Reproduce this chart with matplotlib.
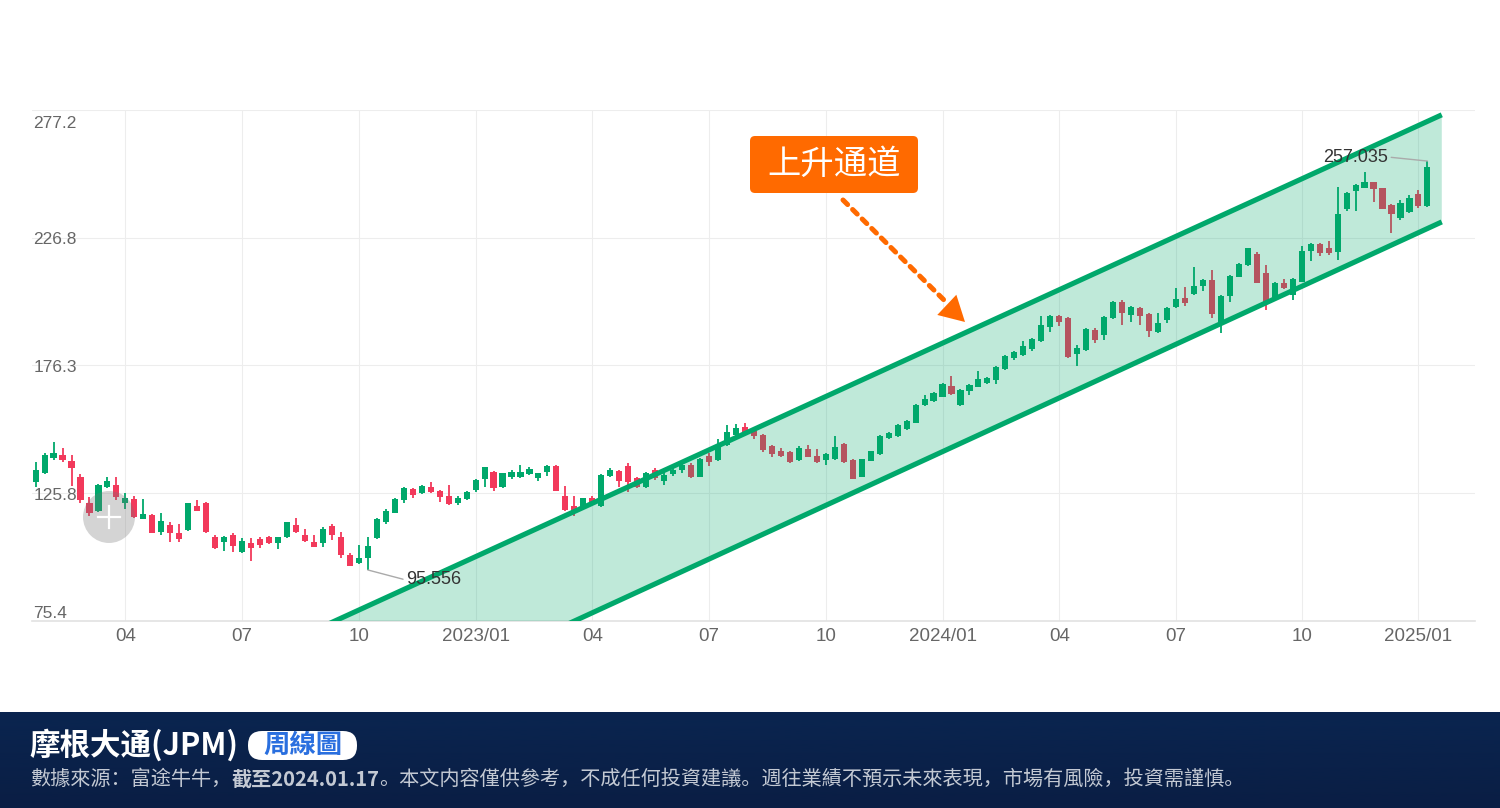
import numpy as np
import pandas as pd
import matplotlib
matplotlib.use('Agg')
import matplotlib.pyplot as plt
from matplotlib.patches import FancyBboxPatch, Circle, Polygon
from matplotlib.lines import Line2D
from matplotlib.transforms import IdentityTransform, blended_transform_factory

CJK = ['Noto Sans CJK SC', 'DejaVu Sans']
NUM = ['Liberation Sans', 'DejaVu Sans']
plt.rcParams['font.family'] = CJK

# ---------------- data ----------------
weeks = pd.date_range('2022-01-24', periods=156, freq='W-MON')

opens = [130.4, 133.7, 139.6, 140.9, 138.7, 132.1, 121.9, 119.0, 128.4, 129.1,
         121.9, 123.4, 115.7, 117.3, 110.7, 113.3, 110.3, 111.3, 120.8, 121.9,
         108.7, 106.7, 109.4, 102.8, 106.3, 107.6, 108.4, 106.3, 108.4, 113.3,
         109.4, 106.7, 106.3, 112.9, 108.7, 101.4, 98.2, 100.4, 108.0, 114.6,
         118.2, 123.2, 127.4, 125.8, 128.4, 126.9, 124.8, 121.9, 123.6, 127.1,
         131.3, 134.4, 128.2, 132.1, 132.1, 133.4, 131.7, 134.4, 136.6, 124.8,
         120.8, 119.9, 123.8, 120.8, 132.7, 134.8, 136.6, 131.7, 128.4, 135.0,
         130.8, 133.3, 135.0, 137.0, 132.4, 140.4, 139.0, 144.9, 148.8, 152.1,
         150.6, 148.8, 144.6, 142.5, 142.3, 139.0, 143.2, 140.6, 139.0, 139.2,
         145.3, 139.0, 132.4, 138.7, 141.3, 147.5, 148.6, 151.2, 153.7, 160.7,
         162.4, 164.0, 168.2, 160.7, 166.2, 167.9, 169.3, 170.6, 174.8, 179.1,
         180.4, 182.7, 186.1, 191.6, 196.0, 194.9, 180.8, 182.4, 190.3, 188.3,
         194.9, 201.2, 196.2, 199.1, 196.6, 189.6, 194.3, 199.3, 202.8, 204.5,
         207.7, 210.0, 192.3, 203.7, 211.4, 216.0, 220.2, 212.9, 202.8, 209.0,
         204.1, 209.4, 221.5, 224.3, 222.6, 221.2, 238.1, 245.3, 246.5, 248.6,
         246.3, 239.7, 234.4, 237.0, 244.0, 239.3]
highs = [138.3, 141.6, 146.2, 143.6, 140.9, 133.4, 124.2, 129.4, 132.4, 132.1,
         125.8, 124.8, 123.6, 117.5, 117.9, 114.6, 113.7, 122.1, 123.2, 122.5,
         109.4, 109.0, 110.0, 108.0, 108.0, 108.7, 109.0, 108.7, 114.6, 115.9,
         111.9, 109.4, 112.4, 113.6, 110.7, 102.4, 105.4, 108.4, 115.9, 119.5,
         123.8, 128.4, 127.8, 129.1, 130.4, 127.1, 129.1, 124.8, 126.9, 131.3,
         136.3, 134.6, 134.0, 135.0, 137.0, 136.3, 134.0, 137.0, 136.9, 128.7,
         124.8, 124.1, 124.8, 133.3, 135.7, 135.0, 137.7, 132.4, 134.4, 135.7,
         135.7, 136.3, 137.7, 137.7, 139.8, 141.6, 147.1, 152.8, 153.2, 153.7,
         150.8, 149.2, 144.9, 143.6, 142.7, 144.5, 144.9, 143.3, 141.6, 148.6,
         145.6, 139.2, 139.5, 142.7, 148.8, 150.2, 153.2, 154.8, 161.0, 164.6,
         165.7, 169.3, 172.1, 166.9, 169.0, 174.2, 171.6, 176.1, 180.4, 182.2,
         186.1, 187.0, 195.8, 196.2, 196.4, 195.3, 184.4, 191.2, 191.0, 195.8,
         201.8, 202.2, 199.9, 199.5, 197.2, 196.9, 199.3, 206.8, 207.4, 215.1,
         210.5, 214.0, 204.1, 212.0, 216.6, 222.8, 221.2, 216.0, 209.4, 210.3,
         210.7, 223.5, 224.5, 224.5, 225.6, 246.6, 244.9, 248.0, 252.8, 248.9,
         246.5, 240.1, 241.6, 243.6, 245.6, 257.035]
lows = [128.4, 133.4, 139.0, 138.3, 128.7, 121.9, 117.0, 118.6, 127.8, 123.2,
        119.5, 115.9, 115.5, 110.0, 109.4, 106.7, 106.7, 111.1, 118.8, 110.3,
        103.7, 103.2, 102.8, 102.1, 99.1, 104.1, 105.8, 103.7, 108.0, 110.0,
        106.7, 104.5, 104.7, 107.4, 100.1, 97.1, 97.9, 95.556, 107.8, 113.9,
        117.9, 122.1, 123.8, 125.6, 125.8, 122.5, 121.2, 121.2, 123.2, 126.5,
        128.4, 126.9, 127.8, 131.3, 131.7, 133.0, 130.7, 132.7, 126.6, 118.9,
        116.9, 119.5, 121.6, 120.6, 132.1, 128.4, 126.5, 127.8, 128.0, 131.1,
        129.1, 132.7, 133.7, 131.7, 132.1, 136.6, 138.7, 144.6, 148.2, 149.5,
        147.1, 142.3, 140.3, 140.3, 137.7, 138.6, 140.0, 137.9, 137.0, 139.0,
        137.9, 131.3, 132.1, 138.4, 141.1, 147.1, 148.2, 150.8, 153.5, 160.4,
        162.0, 163.7, 164.6, 160.4, 164.6, 167.7, 169.0, 169.0, 174.5, 178.5,
        180.1, 182.2, 185.7, 189.7, 191.9, 179.3, 176.1, 182.2, 185.0, 186.3,
        194.7, 192.3, 193.6, 192.3, 187.7, 189.3, 192.9, 198.9, 199.9, 204.1,
        205.8, 194.9, 189.0, 201.5, 211.1, 215.6, 208.7, 198.2, 202.4, 206.4,
        202.2, 209.1, 217.7, 219.7, 219.9, 218.0, 237.4, 237.4, 246.3, 241.0,
        238.0, 228.5, 233.8, 236.4, 238.6, 239.0]
closes = [135.0, 140.9, 141.6, 139.0, 135.7, 123.2, 117.9, 129.1, 130.8, 124.2,
          124.1, 116.3, 117.5, 110.3, 115.0, 110.0, 107.8, 121.9, 119.0, 110.4,
          104.1, 108.7, 105.0, 107.1, 104.4, 105.4, 106.3, 108.4, 114.4, 110.7,
          107.1, 104.7, 111.6, 109.4, 101.4, 97.2, 100.1, 105.0, 115.5, 118.9,
          123.4, 127.8, 125.2, 128.8, 126.5, 124.2, 121.5, 123.8, 126.5, 131.1,
          136.1, 127.8, 133.7, 134.4, 134.4, 135.3, 133.7, 136.6, 126.9, 119.2,
          118.9, 123.8, 121.9, 133.0, 135.0, 130.8, 130.4, 128.4, 133.7, 131.7,
          133.0, 135.0, 137.0, 132.4, 139.4, 138.2, 145.0, 150.0, 151.5, 150.2,
          148.5, 142.9, 141.3, 140.6, 138.3, 143.8, 140.3, 138.3, 141.3, 144.2,
          138.3, 131.5, 139.2, 142.5, 148.6, 149.8, 152.8, 154.4, 160.7, 163.1,
          165.3, 168.9, 165.0, 166.6, 168.6, 170.9, 171.2, 175.6, 180.1, 181.8,
          184.1, 186.6, 192.3, 196.0, 193.6, 179.5, 183.1, 190.8, 186.3, 195.6,
          201.5, 197.2, 199.5, 196.0, 190.0, 193.2, 198.9, 202.4, 200.8, 207.7,
          210.0, 196.6, 203.7, 211.6, 216.2, 222.6, 209.0, 200.8, 209.0, 206.8,
          210.3, 221.5, 224.3, 220.6, 220.6, 236.1, 244.5, 247.6, 248.6, 245.9,
          238.1, 236.1, 240.3, 242.3, 239.3, 254.6]

y_ticks = [75.4, 125.8, 176.3, 226.8, 277.2]
y_tick_labels = ['75.4', '125.8', '176.3', '226.8', '277.2']

# channel (x in week index, y in price)
channel_upper_x = [30.0, 156.6]
channel_upper_y = [70.0, 275.3]
channel_lower_x = [56.7, 156.6]
channel_lower_y = [70.0, 233.0]

low_label = '95.556'
high_label = '257.035'

title = '摩根大通(JPM)'
pill = '周線圖'
sub_pieces = [('數據來源：富途牛牛，', 'normal'),
              ('截至2024.01.17', 'bold'),
              ('。本文内容僅供參考，不成任何投資建議。週往業績不預示未來表現，市場有風險，投資需謹慎。', 'normal')]
box_text = '上升通道'

# ---------------- styles ----------------
UP = '#00A86B'
DOWN = '#F2395B'
ORANGE = '#FF6A00'
W, H = 1500, 808

fig = plt.figure(figsize=(W / 100, H / 100), dpi=100)
fig.patch.set_facecolor('white')
ax = fig.add_axes([32 / W, 1 - 621 / H, 1443 / W, 511 / H])

n = len(opens)
x = np.arange(n)
o = np.array(opens); c = np.array(closes); hi = np.array(highs); lo = np.array(lows)
up = c >= o
cols = np.where(up, UP, DOWN)

ax.vlines(x, lo, hi, colors=cols, lw=1.3, zorder=2)
bottoms = np.minimum(o, c)
heights = np.maximum(np.abs(c - o), 0.4)
ax.bar(x, heights, bottom=bottoms, width=0.68, color=cols, linewidth=0, zorder=2.1)

ax.set_xlim(-0.4, 160.3)
ax.set_ylim(75.4, 277.2)

# ticks
tick_idx, tick_lab = [], []
for i in range(1, n):
    d = weeks[i]
    if d.month in (1, 4, 7, 10) and weeks[i - 1].month != d.month:
        tick_idx.append(i)
        tick_lab.append(f'{d.year}/01' if d.month == 1 else f'{d.month:02d}')
ax.set_xticks(tick_idx)
ax.set_xticklabels(tick_lab, fontsize=13.5, color='#666666', family=NUM)
ax.tick_params(axis='x', length=0, pad=4.8)
ax.set_yticks(y_ticks)
ax.set_yticklabels([])
ax.tick_params(axis='y', length=0)
ax.grid(True, color='#EDEDED', lw=0.8, zorder=0)
ax.set_axisbelow(True)
for s in ['top', 'left', 'right']:
    ax.spines[s].set_visible(False)
ax.spines['bottom'].set_color('#E2E2E2')
ax.spines['bottom'].set_linewidth(1.2)

# y tick labels inside plot
tr = blended_transform_factory(ax.transAxes, ax.transData)
for k, (v, lab) in enumerate(zip(y_ticks, y_tick_labels)):
    if k == 0:
        va, dy = 'bottom', 0
    elif k == len(y_ticks) - 1:
        va, dy = 'top', -6
    else:
        va, dy = 'center', -2
    ax.annotate(lab, xy=(0.001, v), xycoords=tr, xytext=(0, dy), textcoords='offset pixels',
                ha='left', va=va, fontsize=12.5, color='#666666', family=NUM, zorder=6)

# channel
poly = Polygon([(channel_upper_x[0], channel_upper_y[0]), (channel_upper_x[1], channel_upper_y[1]),
                (channel_lower_x[1], channel_lower_y[1]), (channel_lower_x[0], channel_lower_y[0])],
               closed=True, facecolor=UP, alpha=0.25, edgecolor='none', zorder=3)
ax.add_patch(poly)
ax.plot(channel_upper_x, channel_upper_y, color=UP, lw=3.7, solid_capstyle='butt', zorder=4)
ax.plot(channel_lower_x, channel_lower_y, color=UP, lw=3.7, solid_capstyle='butt', zorder=4)

# low / high labels
i_low = int(np.argmin(lo))
ax.annotate(low_label, xy=(i_low, lo[i_low]), xytext=(38, -10), textcoords='offset pixels',
            ha='left', va='center', fontsize=13, color='#333333', family=NUM, zorder=6,
            arrowprops=dict(arrowstyle='-', color='#AAAAAA', lw=1, shrinkA=0, shrinkB=0,
                            relpos=(0, 0.5)))
i_high = int(np.argmax(hi))
ax.annotate(high_label, xy=(i_high, hi[i_high]), xytext=(-39, 4), textcoords='offset pixels',
            ha='right', va='center', fontsize=13, color='#333333', family=NUM, zorder=6,
            arrowprops=dict(arrowstyle='-', color='#AAAAAA', lw=1, shrinkA=0, shrinkB=0,
                            relpos=(1, 0.5)))

# orange label box
box = FancyBboxPatch((750, H - 193), 168, 57, boxstyle='round,pad=0,rounding_size=5',
                     facecolor=ORANGE, edgecolor='none', transform=IdentityTransform(), zorder=10)
fig.add_artist(box)
fig.text(834 / W, 1 - 164 / H, box_text, ha='center', va='center', color='white',
         fontsize=24, weight='medium', family=CJK, zorder=11)

# dashed arrow
fig.add_artist(matplotlib.patches.FancyArrowPatch(
    (843, H - 200), (948, H - 304), arrowstyle='-', color=ORANGE, lw=3.6,
    linestyle=(0, (1.3, 1.4)), shrinkA=0, shrinkB=0, transform=IdentityTransform(), zorder=10))
fig.add_artist(matplotlib.patches.FancyArrowPatch(
    (930, H - 289), (965, H - 322), arrowstyle='-|>,head_length=0.9,head_width=0.5',
    mutation_scale=20, color=ORANGE, lw=0, shrinkA=0, shrinkB=0,
    transform=IdentityTransform(), zorder=10))

# gray touch circle with plus
fig.add_artist(Circle((109, H - 517), 26, facecolor=(0.45, 0.45, 0.45, 0.3), edgecolor='none',
                      transform=IdentityTransform(), zorder=12))
fig.add_artist(Line2D([98, 120], [H - 517, H - 517], color='white', lw=1.6,
                      transform=IdentityTransform(), zorder=13))
fig.add_artist(Line2D([109, 109], [H - 528, H - 506], color='white', lw=1.6,
                      transform=IdentityTransform(), zorder=13))

# bottom banner
bax = fig.add_axes([0, 0, 1, 96 / H])
grad = np.linspace(0, 1, 100).reshape(-1, 1)
top_c = np.array([10, 37, 80]) / 255
bot_c = np.array([10, 30, 68]) / 255
img = top_c[None, None, :] * (1 - grad[:, :, None]) + bot_c[None, None, :] * grad[:, :, None]
bax.imshow(img, aspect='auto', extent=[0, 1, 0, 1])
bax.set_axis_off()

fig.text(29 / W, 1 - 745 / H, title, ha='left', va='center', color='white', fontsize=22,
         weight='bold', family=CJK)
pill_box = FancyBboxPatch((248, H - 760), 109, 29, boxstyle='round,pad=0,rounding_size=14',
                          facecolor='white', edgecolor='none', transform=IdentityTransform(), zorder=5)
fig.add_artist(pill_box)
fig.text(302.5 / W, 1 - 745.5 / H, pill, ha='center', va='center', color='#2A6FDF', fontsize=19,
         weight='bold', family=CJK, zorder=6)

renderer = fig.canvas.get_renderer()
xp = 30
for txt, wt in sub_pieces:
    t = fig.text(xp / W, 1 - 779 / H, txt, ha='left', va='center', color='#C3C9D3',
                 fontsize=14.5, weight=wt, family=CJK)
    bb = t.get_window_extent(renderer)
    xp = bb.x1

fig.savefig('out.png', dpi=100)
